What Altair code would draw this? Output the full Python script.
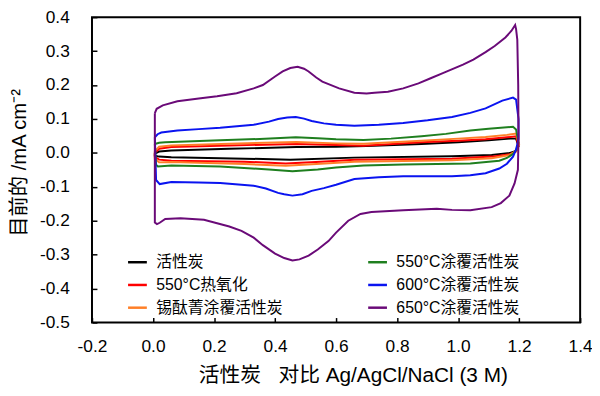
import altair as alt
import pandas as pd

# ---- legend / colour order (legend fills column by column, 2 columns) ----
series_names = ["活性炭", "550°C热氧化", "锡酞菁涂覆活性炭",
                "550°C涂覆活性炭", "600°C涂覆活性炭", "650°C涂覆活性炭"]
series_colors = ["#000000", "#ff0000", "#ff7f27", "#1f7f1f", "#0a14f0", "#6a0a78"]
draw_order = ["活性炭", "550°C热氧化", "锡酞菁涂覆活性炭",
              "550°C涂覆活性炭", "600°C涂覆活性炭", "650°C涂覆活性炭"]

x_ticks = [-0.2, 0.0, 0.2, 0.4, 0.6, 0.8, 1.0, 1.2, 1.4]
y_ticks = [-0.5, -0.4, -0.3, -0.2, -0.1, 0.0, 0.1, 0.2, 0.3, 0.4]

# ---- 650 °C coated (purple) ----
x_650 = [0.006, 0.012, 0.032, 0.08, 0.15, 0.21, 0.274, 0.33, 0.36, 0.40, 0.425, 0.45, 0.474,
         0.495, 0.51, 0.535, 0.555, 0.61, 0.66, 0.70, 0.726, 0.77, 0.82, 0.87, 0.91, 0.95,
         1.016, 1.05, 1.09, 1.12, 1.155, 1.175, 1.187, 1.19, 1.194,
         1.197, 1.198, 1.196, 1.185, 1.168, 1.14, 1.11, 1.04, 0.98, 0.93, 0.82, 0.716, 0.68,
         0.64, 0.60, 0.575, 0.54, 0.51, 0.48, 0.457, 0.43, 0.40, 0.36, 0.33, 0.29, 0.25,
         0.167, 0.09, 0.04, 0.022, 0.013, 0.006, 0.006]
y_650 = [0.117, 0.13, 0.14, 0.152, 0.160, 0.167, 0.176, 0.19, 0.20, 0.225, 0.24, 0.25, 0.254,
         0.248, 0.24, 0.222, 0.21, 0.19, 0.177, 0.175, 0.177, 0.18, 0.19, 0.205, 0.22, 0.235,
         0.26, 0.275, 0.297, 0.315, 0.34, 0.36, 0.377, 0.365, 0.334,
         0.2, 0.05, -0.05, -0.09, -0.126, -0.148, -0.16, -0.169, -0.168, -0.165, -0.169, -0.174, -0.18,
         -0.20, -0.235, -0.26, -0.285, -0.303, -0.314, -0.317, -0.31, -0.297, -0.272, -0.25, -0.23, -0.217,
         -0.197, -0.193, -0.195, -0.206, -0.21, -0.205, 0.117]

# ---- 600 °C coated (blue) ----
x_600 = [0.006, 0.015, 0.027, 0.08, 0.15, 0.22, 0.33, 0.38, 0.41, 0.44, 0.468, 0.495, 0.52,
         0.56, 0.60, 0.66, 0.74, 0.82, 0.90, 0.98, 1.04, 1.09, 1.145, 1.18, 1.19,
         1.198, 1.198, 1.19, 1.18, 1.16, 1.135, 1.09, 1.04, 0.98, 0.82, 0.74, 0.66, 0.60, 0.56,
         0.52, 0.49, 0.457, 0.43, 0.41, 0.37, 0.33, 0.22, 0.15, 0.06, 0.022, 0.01, 0.006]
y_600 = [0.046, 0.055, 0.060, 0.066, 0.070, 0.074, 0.083, 0.092, 0.100, 0.104, 0.106, 0.101, 0.094,
         0.087, 0.083, 0.080, 0.083, 0.088, 0.096, 0.106, 0.118, 0.131, 0.154, 0.163, 0.157,
         0.10, 0.04, 0.01, -0.011, -0.032, -0.046, -0.060, -0.066, -0.069, -0.069, -0.072, -0.077, -0.094, -0.104,
         -0.112, -0.122, -0.126, -0.122, -0.118, -0.105, -0.097, -0.089, -0.087, -0.086, -0.092, -0.080, 0.046]

# ---- 550 °C coated (green) ----
x_550c = [0.006, 0.02, 0.04, 0.22, 0.35, 0.468, 0.54, 0.60, 0.69, 0.78, 0.88, 0.96, 1.04, 1.10,
          1.18, 1.19, 1.198, 1.19, 1.18, 1.16, 1.135, 1.04, 0.82, 0.69, 0.60, 0.54, 0.457, 0.38,
          0.22, 0.06, 0.016, 0.01, 0.006]
y_550c = [0.026, 0.030, 0.031, 0.037, 0.041, 0.046, 0.043, 0.040, 0.038, 0.042, 0.049, 0.056, 0.066, 0.071,
          0.077, 0.069, 0.03, 0.008, -0.003, -0.015, -0.023, -0.031, -0.034, -0.037, -0.043, -0.049, -0.054, -0.049,
          -0.040, -0.037, -0.040, -0.035, 0.026]

# ---- 550 °C thermal oxidation (red) ----
x_550t = [0.006, 0.02, 0.06, 0.25, 0.47, 0.60, 0.69, 0.88, 1.00, 1.09, 1.16, 1.19,
          1.198, 1.19, 1.17, 1.11, 0.98, 0.66, 0.55, 0.435, 0.30, 0.06, 0.02, 0.006, 0.006]
y_550t = [0.000, 0.012, 0.017, 0.022, 0.026, 0.023, 0.021, 0.031, 0.036, 0.040, 0.046, 0.049,
          0.020, 0.004, -0.004, -0.011, -0.017, -0.020, -0.026, -0.031, -0.026, -0.023, -0.020, -0.012, 0.000]

# ---- tin phthalocyanine coated (orange) ----
x_snpc = [0.006, 0.02, 0.06, 0.25, 0.47, 0.60, 0.69, 0.88, 1.00, 1.09, 1.16, 1.19,
          1.20, 1.19, 1.17, 1.11, 0.98, 0.66, 0.55, 0.435, 0.30, 0.06, 0.02, 0.006, 0.006]
y_snpc = [0.005, 0.018, 0.022, 0.027, 0.032, 0.028, 0.027, 0.036, 0.042, 0.047, 0.053, 0.057,
          0.025, 0.006, -0.006, -0.016, -0.022, -0.026, -0.032, -0.038, -0.033, -0.027, -0.028, -0.018, 0.005]

# ---- activated carbon (black) ----
x_ac = [0.006, 0.02, 0.06, 0.25, 0.47, 0.60, 0.70, 0.88, 1.00, 1.10, 1.17, 1.19,
        1.198, 1.19, 1.17, 1.11, 0.98, 0.66, 0.45, 0.30, 0.06, 0.02, 0.006, 0.006]
y_ac = [-0.002, 0.004, 0.007, 0.012, 0.017, 0.018, 0.020, 0.026, 0.031, 0.037, 0.042, 0.042,
        0.020, 0.006, 0.000, -0.006, -0.010, -0.014, -0.020, -0.017, -0.013, -0.011, -0.008, -0.002]

curves = {
    "活性炭": (x_ac, y_ac),
    "550°C热氧化": (x_550t, y_550t),
    "锡酞菁涂覆活性炭": (x_snpc, y_snpc),
    "550°C涂覆活性炭": (x_550c, y_550c),
    "600°C涂覆活性炭": (x_600, y_600),
    "650°C涂覆活性炭": (x_650, y_650),
}

rows = []
for name in draw_order:
    xs, ys = curves[name]
    for i, (xv, yv) in enumerate(zip(xs, ys)):
        rows.append({"series": name, "i": i, "E": xv, "J": yv})
df = pd.DataFrame(rows)

LATIN = "Liberation Sans, Noto Sans CJK SC"
fix_minus = "replace(format(datum.value, '.1f'), '−', '-')"

chart = alt.Chart(df).mark_line(strokeWidth=2).encode(
    x=alt.X("E:Q",
            scale=alt.Scale(domain=[-0.2, 1.4], nice=False, zero=False),
            axis=alt.Axis(values=x_ticks, labelExpr=fix_minus, grid=False, domain=False,
                          offset=-5, tickSize=5, tickWidth=1.5, tickColor="black",
                          labelFlush=False, labelOverlap=False, labelPadding=15,
                          labelFont=LATIN, labelFontSize=17.5, labelColor="black",
                          title="活性炭\u00a0\u00a0 对比 Ag/AgCl/NaCl (3 M)",
                          titleFont=LATIN, titleFontSize=21, titleFontWeight="normal",
                          titleColor="black", titleX=264, titleY=59,
                          titleBaseline="middle", titleAlign="center")),
    y=alt.Y("J:Q",
            scale=alt.Scale(domain=[-0.5, 0.4], nice=False, zero=False),
            axis=alt.Axis(values=y_ticks, labelExpr=fix_minus, grid=False, domain=False,
                          offset=-5, tickSize=5, tickWidth=1.5, tickColor="black",
                          labelFlush=False, labelOverlap=False, labelPadding=23,
                          labelFont=LATIN, labelFontSize=17.5, labelColor="black",
                          title="目前的 /mA cm⁻²",
                          titleFont=LATIN, titleFontSize=20.5, titleFontWeight="normal",
                          titleColor="black", titleX=-78, titleY=147, titleAngle=-90,
                          titleBaseline="middle", titleAlign="center")),
    color=alt.Color("series:N",
                    scale=alt.Scale(domain=series_names, range=series_colors),
                    legend=alt.Legend(orient="none", legendX=35, legendY=237, columns=2,
                                      title=None, symbolType="stroke", symbolSize=361,
                                      symbolStrokeWidth=2.5, labelFont=LATIN,
                                      labelFontSize=16, labelColor="black", labelOffset=8,
                                      rowPadding=4, columnPadding=80, padding=0,
                                      labelLimit=300)),
    detail="series:N",
    order="i:Q",
).properties(
    width=494, height=309,
    autosize=alt.AutoSizeParams(type="none"),
    padding={"left": 85, "top": 7, "right": 12, "bottom": 64},
).configure_view(stroke="black", strokeWidth=2)

chart.save("out.html", embed_options={"renderer": "svg", "actions": False})
